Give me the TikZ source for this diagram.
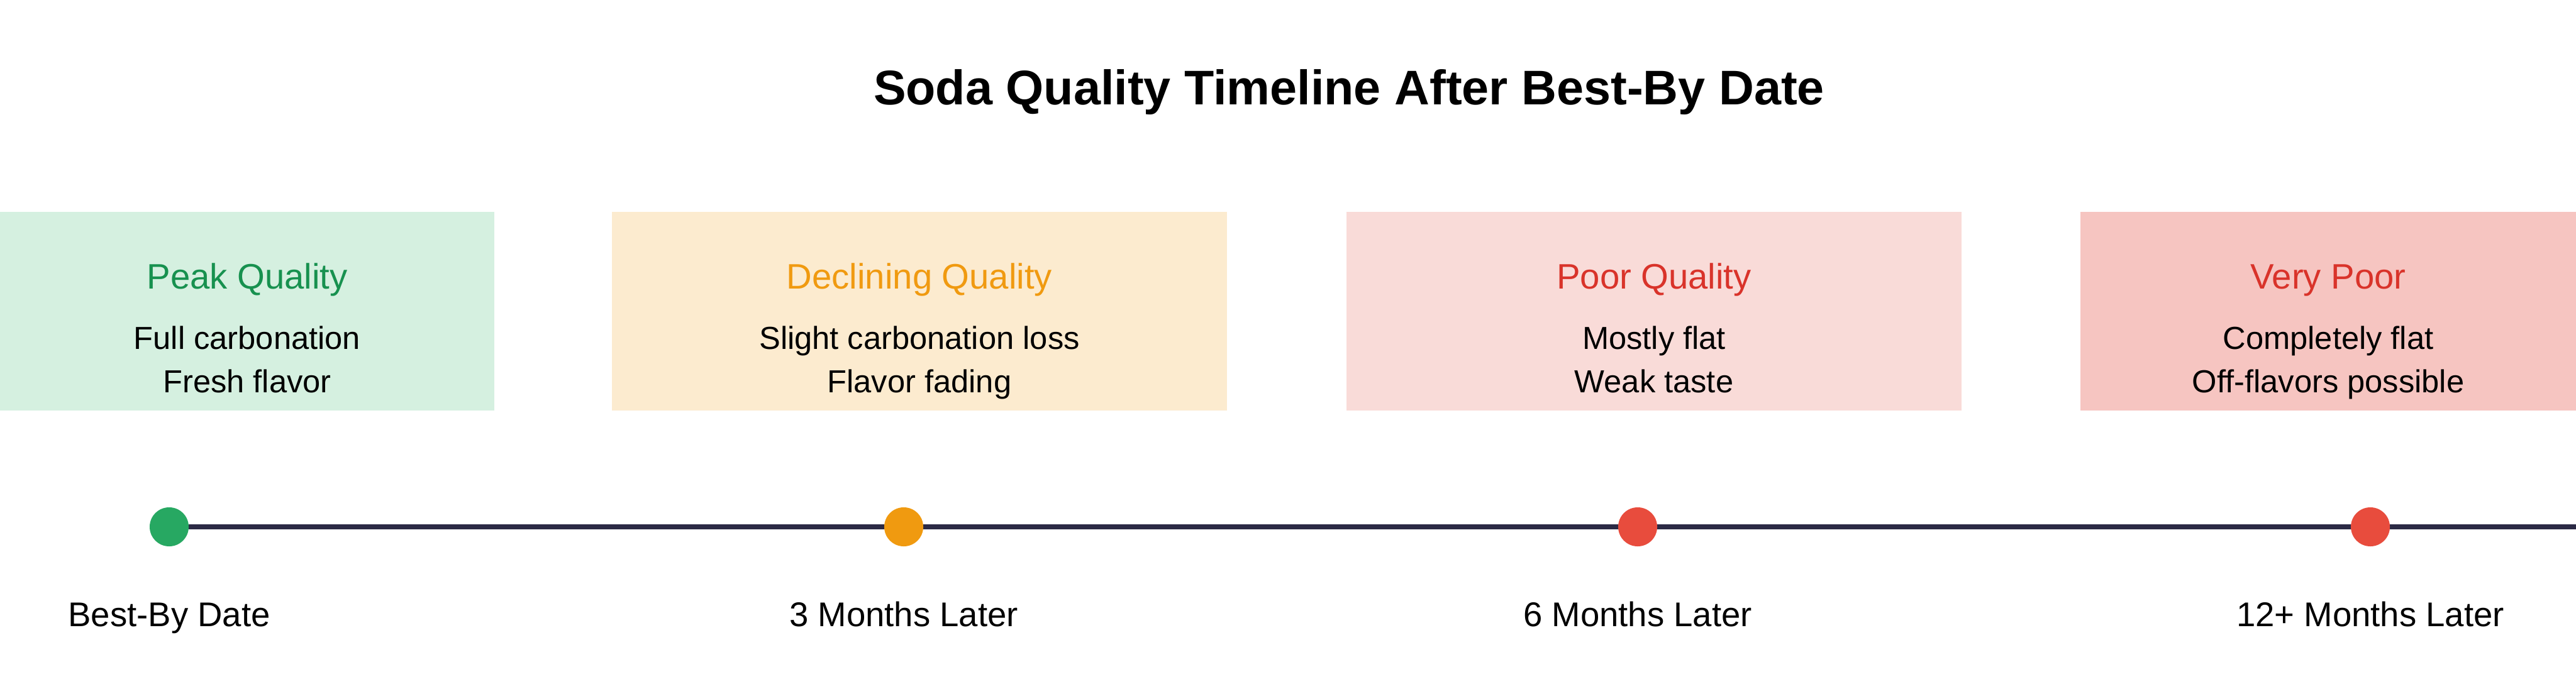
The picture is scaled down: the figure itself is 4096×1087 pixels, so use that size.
\documentclass[tikz,border=0pt]{standalone}
\usepackage{fontspec}
\setmainfont{Liberation Sans}
\usetikzlibrary{positioning,backgrounds}

\definecolor{peakbg}{HTML}{D5F0E0}
\definecolor{peakfg}{HTML}{17914F}
\definecolor{peakdot}{HTML}{27A862}
\definecolor{declbg}{HTML}{FCEBCF}
\definecolor{declfg}{HTML}{F09A10}
\definecolor{poorbg}{HTML}{F9DBD8}
\definecolor{poorfg}{HTML}{D9332A}
\definecolor{vpoorbg}{HTML}{F6C5C1}
\definecolor{reddot}{HTML}{E84C3D}
\definecolor{tline}{HTML}{2B2A45}

\begin{document}
\begin{tikzpicture}[x=0.01cm, y=-0.01cm,
    box/.style = {rectangle, minimum height=3.16cm, inner sep=0pt},
    head/.style = {anchor=base, font=\fontsize{16}{19}\selectfont},
    body/.style = {anchor=base, align=center, font=\fontsize{14.4}{19.35}\selectfont},
    dot/.style = {circle, minimum size=0.62cm, inner sep=0pt},
    lbl/.style = {anchor=base, font=\fontsize{15.5}{18}\selectfont}]
    \useasboundingbox (0,0) rectangle (4096,1087);

    \node[anchor=base, font=\bfseries\fontsize{22}{26}\selectfont] (title) at (2145,166) {Soda Quality Timeline After Best-By Date};

    % stage boxes
    \node[box, fill=peakbg, minimum width=7.86cm] (box1) at (393,495) {};
    \node[box, fill=declbg, minimum width=9.77cm] (box2) at (1462,495) {};
    \node[box, fill=poorbg, minimum width=9.77cm] (box3) at (2630,495) {};
    \node[box, fill=vpoorbg, minimum width=7.87cm] (box4) at (3702,495) {};

    \node[head, text=peakfg] (h1) at (393,459) {Peak Quality};
    \node[head, text=declfg] (h2) at (1462,459) {Declining Quality};
    \node[head, text=poorfg] (h3) at (2630,459) {Poor Quality};
    \node[head, text=poorfg] (h4) at (3702,459) {Very Poor};

    % base of a two-line node is its last line
    \node[body] (b1) at (393,624) {Full carbonation\\Fresh flavor};
    \node[body] (b2) at (1462,624) {Slight carbonation loss\\Flavor fading};
    \node[body] (b3) at (2630,624) {Mostly flat\\Weak taste};
    \node[body] (b4) at (3702,624) {Completely flat\\Off-flavors possible};

    % timeline
    \node[dot, fill=peakdot] (d1) at (269,838) {};
    \node[dot, fill=declfg] (d2) at (1437,838) {};
    \node[dot, fill=reddot] (d3) at (2604,838) {};
    \node[dot, fill=reddot] (d4) at (3769,838) {};
    \coordinate (tend) at (4096,838);

    \begin{scope}[on background layer]
        \draw[tline, line width=2.2pt] (d1.center) -- (d2.center) -- (d3.center) -- (d4.center) -- (tend);
    \end{scope}

    \node[lbl] (l1) at (269,996) {Best-By Date};
    \node[lbl] (l2) at (1437,996) {3 Months Later};
    \node[lbl] (l3) at (2604,996) {6 Months Later};
    \node[lbl] (l4) at (3769,996) {12+ Months Later};
\end{tikzpicture}
\end{document}
